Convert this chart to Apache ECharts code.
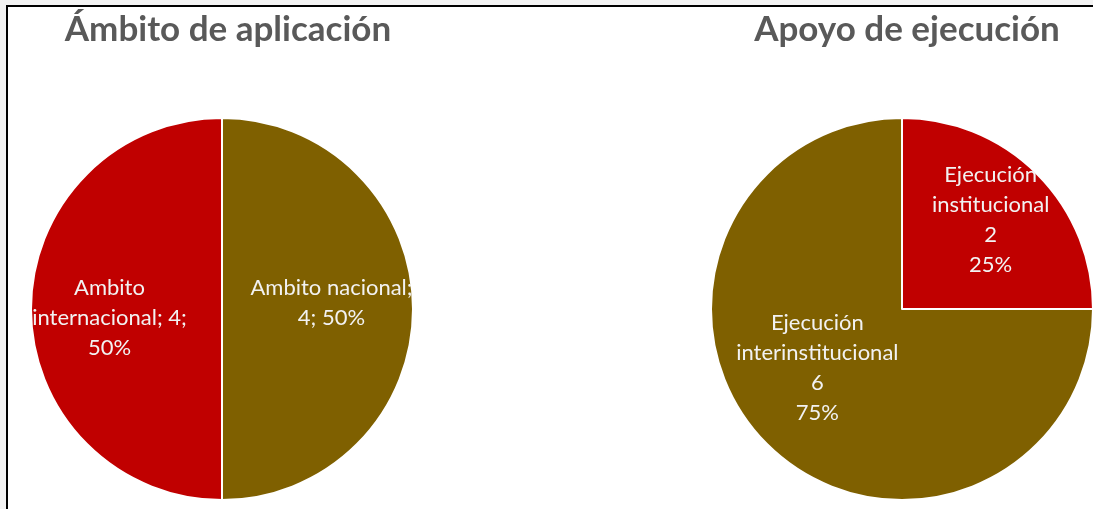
<!DOCTYPE html>
<html>
<head>
<meta charset="utf-8">
<script src="https://cdn.jsdelivr.net/npm/echarts@6/dist/echarts.min.js"></script>
<style>
  html, body { margin: 0; padding: 0; background: #f3f3f3; }
  .frame {
    position: absolute; left: 6px; top: 5px; right: 0; bottom: 0;
    background: #fff; border-left: 2px solid #000; border-top: 2px solid #000;
  }
  #chart { position: absolute; left: 0; top: 0; width: 1093px; height: 509px; }
</style>
</head>
<body>
<div class="frame"></div>
<div id="chart"></div>
<script>
// Ámbito de aplicación
const ambitoNames = ['Ambito nacional', 'Ambito internacional'];
const ambitoValues = [4, 4];
const ambitoLabels = ['Ambito nacional;\n4; 50%', 'Ambito\ninternacional; 4;\n50%'];

// Apoyo de ejecución
const apoyoNames = ['Ejecución institucional', 'Ejecución interinstitucional'];
const apoyoValues = [2, 6];
const apoyoLabels = ['Ejecución\ninstitucional\n2\n25%', 'Ejecución\ninterinstitucional\n6\n75%'];

const titles = ['Ámbito de aplicación', 'Apoyo de ejecución'];

const RED = '#C00000';
const OLIVE = '#7F6000';

const labelStyle = {
  show: true,
  position: 'inside',
  color: '#f2f2f2',
  fontFamily: 'Lato',
  fontSize: 22,
  lineHeight: 30,
  align: 'center'
};

const titleStyle = { fontFamily: 'Lato', fontWeight: 'bold', fontSize: 35, color: '#595959' };

function buildData(names, values, labels, colors, offsets) {
  return names.map((n, i) => ({
    name: n,
    value: values[i],
    itemStyle: { color: colors[i] },
    label: { formatter: labels[i], offset: offsets[i] }
  }));
}

const chart = echarts.init(document.getElementById('chart'));
chart.setOption({
  animation: false,
  title: [
    { text: titles[0], left: 223, top: 7, textAlign: 'center', textStyle: titleStyle },
    { text: titles[1], left: 902, top: 7, textAlign: 'center', textStyle: titleStyle }
  ],
  series: [
    {
      type: 'pie',
      center: [222, 309],
      radius: 191,
      startAngle: 90,
      clockwise: true,
      silent: true,
      itemStyle: { borderColor: '#fff', borderWidth: 2 },
      label: labelStyle,
      labelLine: { show: false },
      data: buildData(ambitoNames, ambitoValues, ambitoLabels, [OLIVE, RED], [[11, -6], [-14, 9]])
    },
    {
      type: 'pie',
      center: [902, 309],
      radius: 191,
      startAngle: 90,
      clockwise: true,
      silent: true,
      itemStyle: { borderColor: '#fff', borderWidth: 2 },
      label: labelStyle,
      labelLine: { show: false },
      data: buildData(apoyoNames, apoyoValues, apoyoLabels, [RED, OLIVE], [[19, -19], [-15, -11]])
    }
  ]
});
</script>
</body>
</html>
